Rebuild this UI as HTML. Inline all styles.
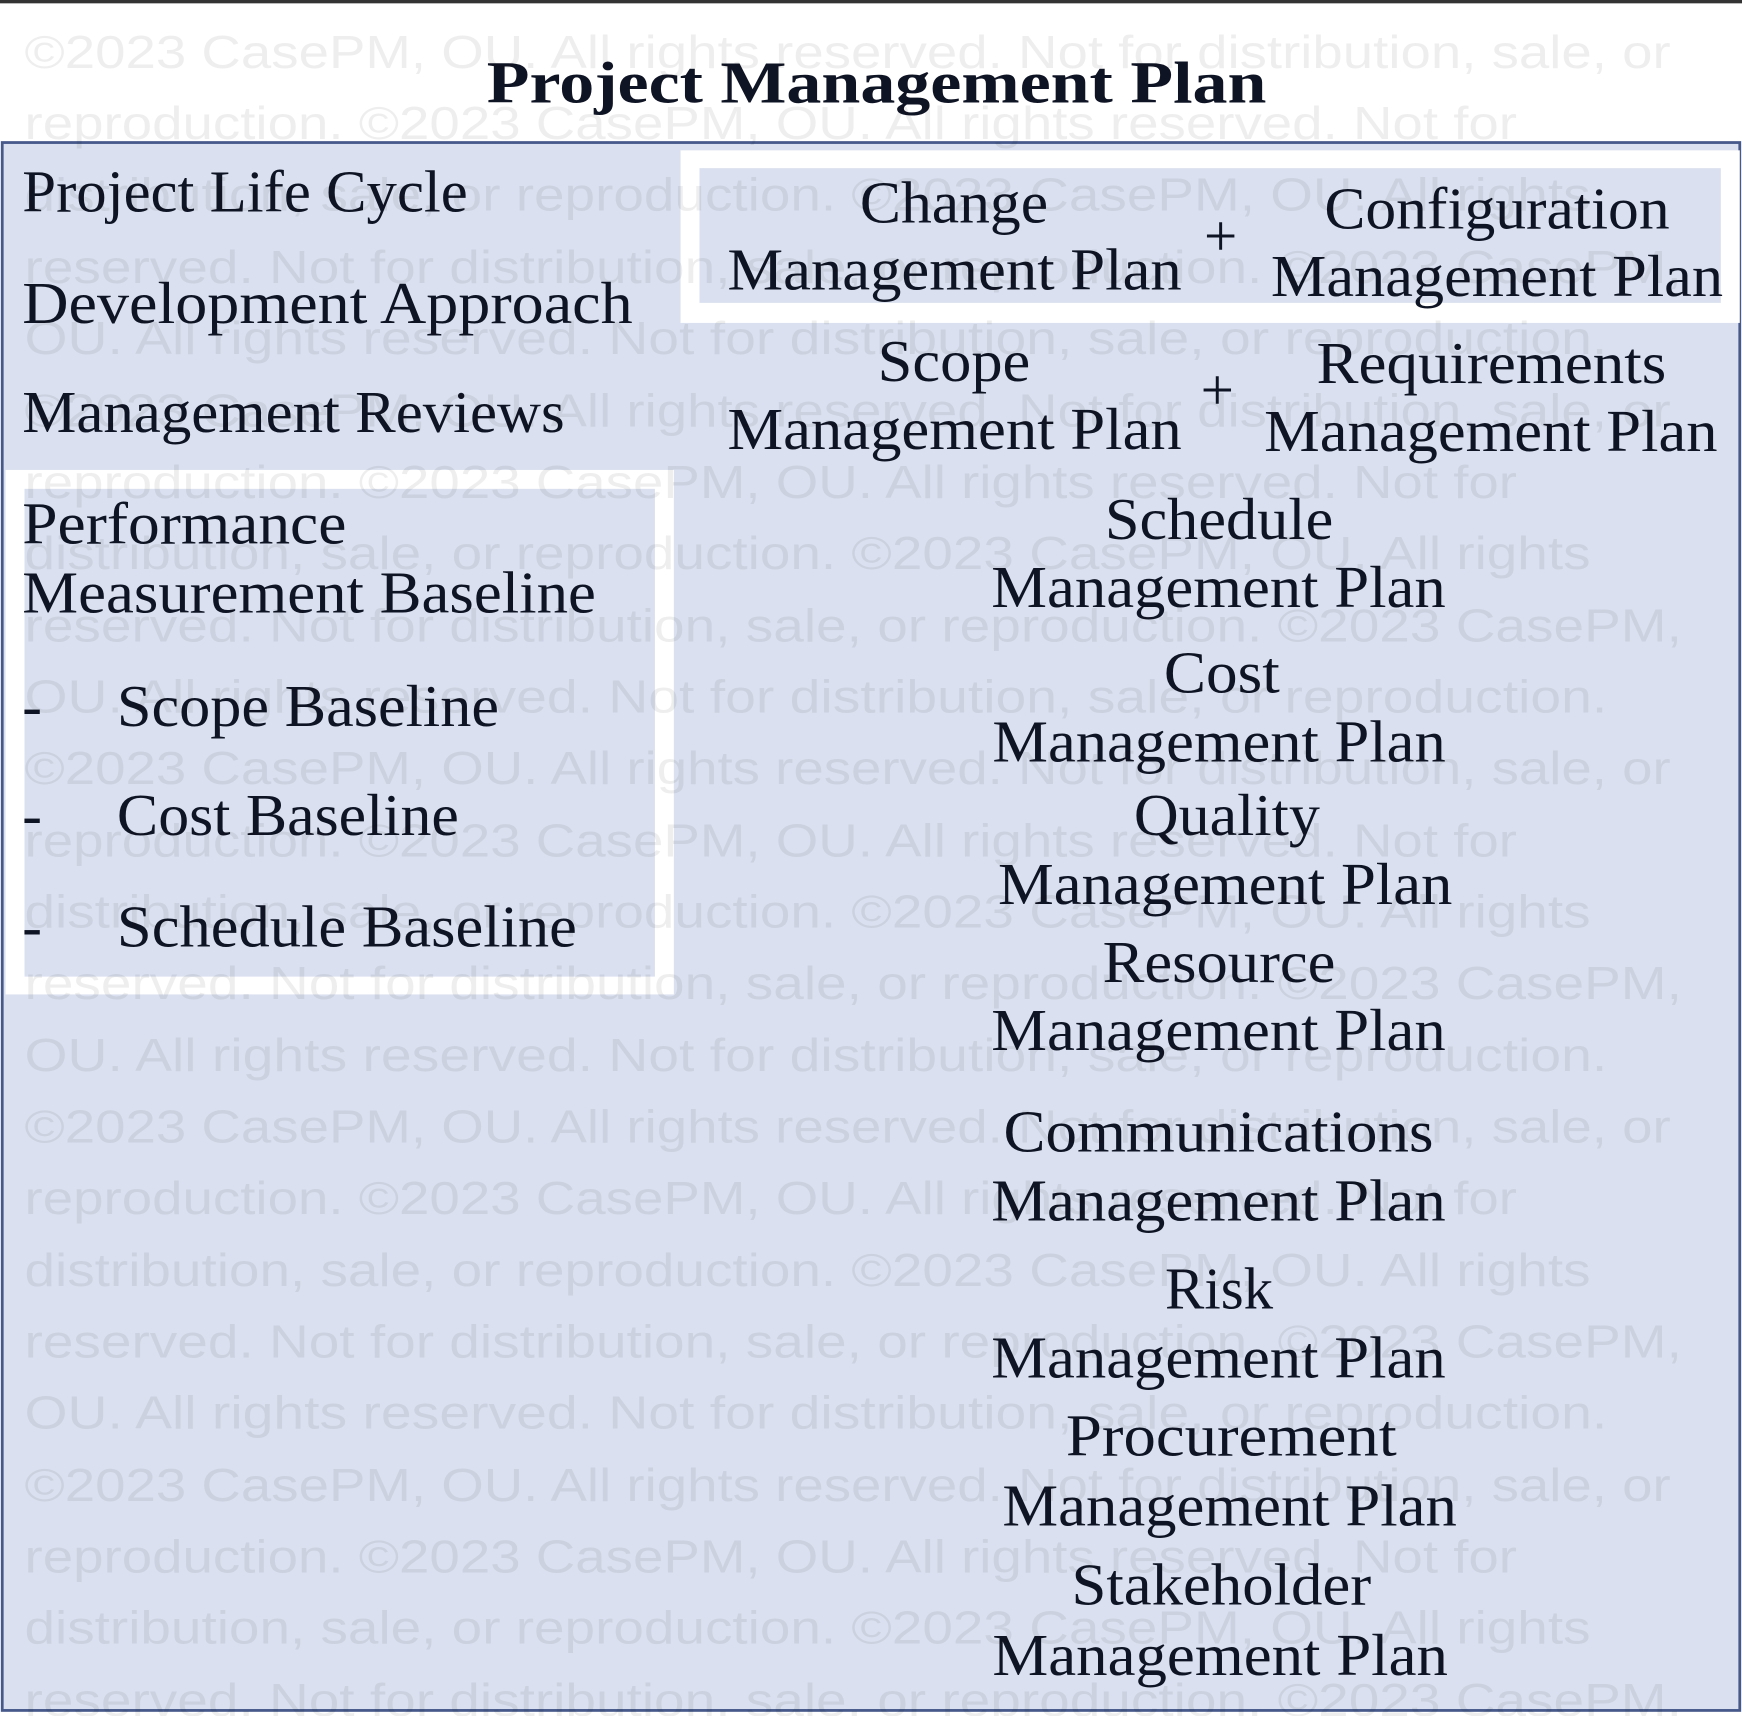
<!DOCTYPE html>
<html><head><meta charset="utf-8"><style>
html,body{margin:0;padding:0;background:#fff;width:1742px;height:1716px;overflow:hidden}
svg{display:block}
.t{font-family:"Liberation Serif",serif;font-size:53px;fill:#0f1424}
.w{font-family:"Liberation Sans",sans-serif;font-size:42px;fill:#000;fill-opacity:0.065}
</style></head><body>
<svg width="1742" height="1716" viewBox="0 0 1564 1541" preserveAspectRatio="none">
<rect x="0" y="0" width="1564" height="1541" fill="#fff"/>
<rect x="0" y="0" width="1564" height="3" fill="#333"/>
<rect x="2" y="128" width="1560" height="1408" fill="#dae0ef" stroke="#46598a" stroke-width="2.5"/>
<rect x="611" y="135" width="951" height="155" fill="#fff"/>
<rect x="628" y="151" width="917" height="121" fill="#dae0ef"/>
<rect x="5" y="422" width="600" height="471" fill="#fff"/>
<rect x="22" y="439" width="566" height="438" fill="#dae0ef"/>

<text class="t" x="437" y="92" font-size="68" font-weight="bold" textLength="700" lengthAdjust="spacingAndGlyphs">Project Management Plan</text>

<text class="t" x="20" y="190" textLength="400" lengthAdjust="spacingAndGlyphs">Project Life Cycle</text>
<text class="t" x="20" y="290" textLength="548" lengthAdjust="spacingAndGlyphs">Development Approach</text>
<text class="t" x="20" y="388" textLength="487" lengthAdjust="spacingAndGlyphs">Management Reviews</text>
<text class="t" x="20" y="488" textLength="291" lengthAdjust="spacingAndGlyphs">Performance</text>
<text class="t" x="20" y="550" textLength="515" lengthAdjust="spacingAndGlyphs">Measurement Baseline</text>
<text class="t" x="20" y="652">-</text>
<text class="t" x="105" y="652" textLength="343" lengthAdjust="spacingAndGlyphs">Scope Baseline</text>
<text class="t" x="20" y="750">-</text>
<text class="t" x="105" y="750" textLength="307" lengthAdjust="spacingAndGlyphs">Cost Baseline</text>
<text class="t" x="20" y="850">-</text>
<text class="t" x="105" y="850" textLength="413" lengthAdjust="spacingAndGlyphs">Schedule Baseline</text>

<text class="t" x="772" y="200" textLength="169" lengthAdjust="spacingAndGlyphs">Change</text>
<text class="t" x="653" y="260" textLength="408" lengthAdjust="spacingAndGlyphs">Management Plan</text>
<text class="t" x="1081" y="230" font-size="64">+</text>
<text class="t" x="1189" y="205" textLength="310" lengthAdjust="spacingAndGlyphs">Configuration</text>
<text class="t" x="1141" y="266" textLength="406" lengthAdjust="spacingAndGlyphs">Management Plan</text>

<text class="t" x="788" y="342" textLength="137" lengthAdjust="spacingAndGlyphs">Scope</text>
<text class="t" x="653" y="403" textLength="408" lengthAdjust="spacingAndGlyphs">Management Plan</text>
<text class="t" x="1078" y="368" font-size="64">+</text>
<text class="t" x="1182" y="344" textLength="314" lengthAdjust="spacingAndGlyphs">Requirements</text>
<text class="t" x="1135" y="405" textLength="407" lengthAdjust="spacingAndGlyphs">Management Plan</text>

<text class="t" x="992" y="484" textLength="205" lengthAdjust="spacingAndGlyphs">Schedule</text>
<text class="t" x="890" y="545" textLength="408" lengthAdjust="spacingAndGlyphs">Management Plan</text>
<text class="t" x="1045" y="622" textLength="104" lengthAdjust="spacingAndGlyphs">Cost</text>
<text class="t" x="891" y="684" textLength="407" lengthAdjust="spacingAndGlyphs">Management Plan</text>
<text class="t" x="1018" y="750" textLength="167" lengthAdjust="spacingAndGlyphs">Quality</text>
<text class="t" x="896" y="812" textLength="408" lengthAdjust="spacingAndGlyphs">Management Plan</text>
<text class="t" x="990" y="882" textLength="209" lengthAdjust="spacingAndGlyphs">Resource</text>
<text class="t" x="890" y="943" textLength="408" lengthAdjust="spacingAndGlyphs">Management Plan</text>
<text class="t" x="901" y="1034" textLength="386" lengthAdjust="spacingAndGlyphs">Communications</text>
<text class="t" x="890" y="1096" textLength="408" lengthAdjust="spacingAndGlyphs">Management Plan</text>
<text class="t" x="1046" y="1175" textLength="97" lengthAdjust="spacingAndGlyphs">Risk</text>
<text class="t" x="890" y="1237" textLength="408" lengthAdjust="spacingAndGlyphs">Management Plan</text>
<text class="t" x="957" y="1307" textLength="297" lengthAdjust="spacingAndGlyphs">Procurement</text>
<text class="t" x="900" y="1370" textLength="408" lengthAdjust="spacingAndGlyphs">Management Plan</text>
<text class="t" x="962" y="1441" textLength="269" lengthAdjust="spacingAndGlyphs">Stakeholder</text>
<text class="t" x="891" y="1504" textLength="409" lengthAdjust="spacingAndGlyphs">Management Plan</text>

<g class="w">
<text class="w" x="22" y="61" textLength="1478" lengthAdjust="spacingAndGlyphs">©2023 CasePM, OU. All rights reserved. Not for distribution, sale, or</text>
<text class="w" x="22" y="125" textLength="1340" lengthAdjust="spacingAndGlyphs">reproduction. ©2023 CasePM, OU. All rights reserved. Not for</text>
<text class="w" x="22" y="189" textLength="1406" lengthAdjust="spacingAndGlyphs">distribution, sale, or reproduction. ©2023 CasePM, OU. All rights</text>
<text class="w" x="22" y="254" textLength="1488" lengthAdjust="spacingAndGlyphs">reserved. Not for distribution, sale, or reproduction. ©2023 CasePM,</text>
<text class="w" x="22" y="318" textLength="1421" lengthAdjust="spacingAndGlyphs">OU. All rights reserved. Not for distribution, sale, or reproduction.</text>
<text class="w" x="22" y="383" textLength="1478" lengthAdjust="spacingAndGlyphs">©2023 CasePM, OU. All rights reserved. Not for distribution, sale, or</text>
<text class="w" x="22" y="447" textLength="1340" lengthAdjust="spacingAndGlyphs">reproduction. ©2023 CasePM, OU. All rights reserved. Not for</text>
<text class="w" x="22" y="511" textLength="1406" lengthAdjust="spacingAndGlyphs">distribution, sale, or reproduction. ©2023 CasePM, OU. All rights</text>
<text class="w" x="22" y="576" textLength="1488" lengthAdjust="spacingAndGlyphs">reserved. Not for distribution, sale, or reproduction. ©2023 CasePM,</text>
<text class="w" x="22" y="640" textLength="1421" lengthAdjust="spacingAndGlyphs">OU. All rights reserved. Not for distribution, sale, or reproduction.</text>
<text class="w" x="22" y="704" textLength="1478" lengthAdjust="spacingAndGlyphs">©2023 CasePM, OU. All rights reserved. Not for distribution, sale, or</text>
<text class="w" x="22" y="769" textLength="1340" lengthAdjust="spacingAndGlyphs">reproduction. ©2023 CasePM, OU. All rights reserved. Not for</text>
<text class="w" x="22" y="833" textLength="1406" lengthAdjust="spacingAndGlyphs">distribution, sale, or reproduction. ©2023 CasePM, OU. All rights</text>
<text class="w" x="22" y="897" textLength="1488" lengthAdjust="spacingAndGlyphs">reserved. Not for distribution, sale, or reproduction. ©2023 CasePM,</text>
<text class="w" x="22" y="962" textLength="1421" lengthAdjust="spacingAndGlyphs">OU. All rights reserved. Not for distribution, sale, or reproduction.</text>
<text class="w" x="22" y="1026" textLength="1478" lengthAdjust="spacingAndGlyphs">©2023 CasePM, OU. All rights reserved. Not for distribution, sale, or</text>
<text class="w" x="22" y="1090" textLength="1340" lengthAdjust="spacingAndGlyphs">reproduction. ©2023 CasePM, OU. All rights reserved. Not for</text>
<text class="w" x="22" y="1155" textLength="1406" lengthAdjust="spacingAndGlyphs">distribution, sale, or reproduction. ©2023 CasePM, OU. All rights</text>
<text class="w" x="22" y="1219" textLength="1488" lengthAdjust="spacingAndGlyphs">reserved. Not for distribution, sale, or reproduction. ©2023 CasePM,</text>
<text class="w" x="22" y="1283" textLength="1421" lengthAdjust="spacingAndGlyphs">OU. All rights reserved. Not for distribution, sale, or reproduction.</text>
<text class="w" x="22" y="1348" textLength="1478" lengthAdjust="spacingAndGlyphs">©2023 CasePM, OU. All rights reserved. Not for distribution, sale, or</text>
<text class="w" x="22" y="1412" textLength="1340" lengthAdjust="spacingAndGlyphs">reproduction. ©2023 CasePM, OU. All rights reserved. Not for</text>
<text class="w" x="22" y="1476" textLength="1406" lengthAdjust="spacingAndGlyphs">distribution, sale, or reproduction. ©2023 CasePM, OU. All rights</text>
<text class="w" x="22" y="1541" textLength="1488" lengthAdjust="spacingAndGlyphs">reserved. Not for distribution, sale, or reproduction. ©2023 CasePM,</text>
</g>
</svg>
</body></html>
